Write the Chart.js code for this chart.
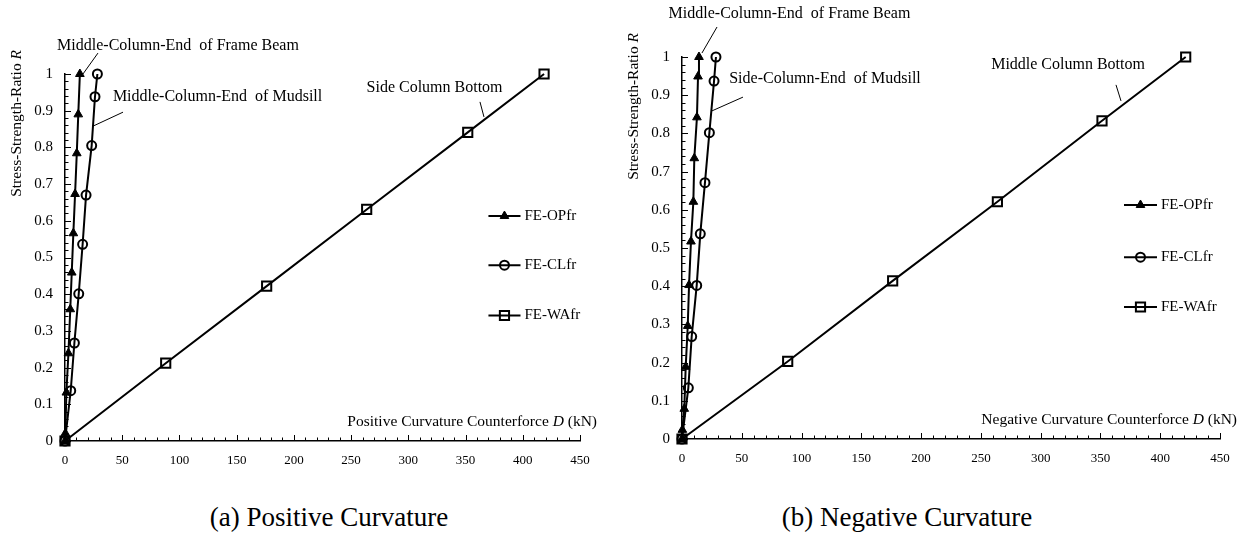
<!DOCTYPE html>
<html>
<head>
<meta charset="utf-8">
<script src="https://cdn.jsdelivr.net/npm/chart.js@4.4.0/dist/chart.umd.min.js"></script>
<style>
  body { margin: 0; background: #fff; width: 1246px; height: 535px; position: relative; overflow: hidden; font-family: "Liberation Serif", serif; }
  canvas { position: absolute; top: 0; }
  .cap { position: absolute; top: 502px; width: 400px; text-align: center; font-size: 27px; color: #000; }
</style>
</head>
<body>
<canvas id="chartA" width="620" height="480" style="left:0"></canvas>
<canvas id="chartB" width="626" height="480" style="left:620px"></canvas>
<div class="cap" style="left:129px">(a) Positive Curvature</div>
<div class="cap" style="left:707px">(b) Negative Curvature</div>
<script>
'use strict';

// series names
var seriesNames = ['FE-OPfr', 'FE-CLfr', 'FE-WAfr'];

// x ticks / y ticks
var xTicks = [0, 50, 100, 150, 200, 250, 300, 350, 400, 450];
var yTicks = [0, 0.1, 0.2, 0.3, 0.4, 0.5, 0.6, 0.7, 0.8, 0.9, 1];

// (a) positive curvature: D (kN) and R
var posOpD = [0, 0.3, 1.2, 3.0, 4.6, 5.9, 7.3, 8.8, 10.3, 11.6, 13.0];
var posOpR = [0, 0.021, 0.132, 0.239, 0.359, 0.459, 0.566, 0.673, 0.784, 0.890, 1.0];
var posClD = [0, 5.0, 8.2, 12.0, 15.4, 18.4, 23.3, 26.2, 28.3];
var posClR = [0, 0.137, 0.267, 0.401, 0.536, 0.670, 0.805, 0.938, 1.0];
var posWaD = [0, 88.0, 176.2, 263.6, 351.9, 418.6];
var posWaR = [0, 0.212, 0.422, 0.631, 0.841, 1.0];

// (b) negative curvature
var negOpD = [0, 0.3, 1.9, 3.1, 4.8, 5.9, 7.5, 9.5, 10.3, 12.5, 13.4, 14.2];
var negOpR = [0, 0.024, 0.079, 0.189, 0.296, 0.403, 0.517, 0.621, 0.735, 0.842, 0.949, 1.0];
var negClD = [0, 5.3, 8.1, 12.3, 15.3, 19.2, 22.9, 26.8, 28.4];
var negClR = [0, 0.134, 0.268, 0.402, 0.537, 0.671, 0.802, 0.937, 1.0];
var negWaD = [0, 88.4, 176.2, 263.8, 351.3, 421.3];
var negWaR = [0, 0.203, 0.414, 0.621, 0.833, 1.0];

var FONT = '"Liberation Serif", "Times New Roman", serif';

var styles = [
  { pointStyle: 'triangle', radius: 5, bg: '#000', bw: 1 },
  { pointStyle: 'circle', radius: 4.5, bg: 'rgba(0,0,0,0)', bw: 2 },
  { pointStyle: 'rect', radius: 6.5, bg: 'rgba(0,0,0,0)', bw: 2 }
];

function toPoints(xs, ys) {
  var pts = [];
  for (var i = 0; i < xs.length; i++) {
    pts.push({ x: xs[i], y: ys[i] });
  }
  return pts;
}

// draws text made of plain / italic pieces, starting at x
function drawParts(ctx, parts, x, y, size) {
  var cx = x;
  for (var i = 0; i < parts.length; i++) {
    ctx.font = (parts[i][1] ? 'italic ' : '') + size + 'px ' + FONT;
    ctx.fillText(parts[i][0], cx, y);
    cx += ctx.measureText(parts[i][0]).width;
  }
}
function partsWidth(ctx, parts, size) {
  var w = 0;
  for (var i = 0; i < parts.length; i++) {
    ctx.font = (parts[i][1] ? 'italic ' : '') + size + 'px ' + FONT;
    w += ctx.measureText(parts[i][0]).width;
  }
  return w;
}

function makeDecor(deco) {
  return {
    id: 'decor',
    afterDraw: function (chart) {
      var ctx = chart.ctx, xs = chart.scales.x, ys = chart.scales.y, area = chart.chartArea;
      ctx.save();
      ctx.strokeStyle = '#000';
      ctx.fillStyle = '#000';
      ctx.lineWidth = 1;

      // inside tick marks
      ctx.beginPath();
      for (var i = 0; i <= 45; i++) {
        var px = Math.round(xs.getPixelForValue(i * 10)) + 0.5;
        var len = i % 5 === 0 ? 6 : 3.5;
        ctx.moveTo(px, area.bottom);
        ctx.lineTo(px, area.bottom - len);
      }
      for (var j = 0; j <= 50; j++) {
        var py = Math.round(ys.getPixelForValue(j * 0.02)) + 0.5;
        var l2 = j % 5 === 0 ? 6 : 3.5;
        ctx.moveTo(area.left, py);
        ctx.lineTo(area.left + l2, py);
      }
      ctx.stroke();

      // annotations with leader lines
      ctx.textBaseline = 'middle';
      deco.notes.forEach(function (n) {
        ctx.font = '16px ' + FONT;
        ctx.textAlign = 'center';
        ctx.fillText(n.text, xs.getPixelForValue(n.at[0]), ys.getPixelForValue(n.at[1]));
        ctx.beginPath();
        ctx.moveTo(xs.getPixelForValue(n.from[0]), ys.getPixelForValue(n.from[1]));
        ctx.lineTo(xs.getPixelForValue(n.to[0]), ys.getPixelForValue(n.to[1]));
        ctx.stroke();
      });

      // legend
      ctx.textAlign = 'left';
      chart.data.datasets.forEach(function (ds, k) {
        var y = ys.getPixelForValue(deco.legendY[k]);
        var x0 = xs.getPixelForValue(deco.legendX[0]);
        var x1 = xs.getPixelForValue(deco.legendX[1]);
        ctx.lineWidth = 2;
        ctx.beginPath();
        ctx.moveTo(x0, y);
        ctx.lineTo(x1, y);
        ctx.stroke();
        var st = styles[k];
        ctx.fillStyle = st.bg;
        ctx.lineWidth = st.bw;
        Chart.helpers.drawPoint(ctx, { pointStyle: st.pointStyle, radius: st.radius, rotation: 0, borderWidth: st.bw }, (x0 + x1) / 2, y);
        ctx.fillStyle = '#000';
        ctx.font = '15px ' + FONT;
        ctx.fillText(ds.label, x1 + 4, y);
      });

      // x axis title, right aligned
      var xt = deco.xTitle;
      var w = partsWidth(ctx, xt, 15.5);
      ctx.textAlign = 'left';
      drawParts(ctx, xt, area.right + 17 - w, area.bottom - 19, 15.5);

      // y axis title, rotated, reading upward, ending near the top
      var yt = [['Stress-Strength-Ratio ', false], ['R', true]];
      var wy = partsWidth(ctx, yt, 15.5);
      ctx.translate(area.left - 48, area.top - 24);
      ctx.rotate(-Math.PI / 2);
      drawParts(ctx, yt, -wy, 0, 15.5);
      ctx.restore();
    }
  };
}

function buildChart(id, xsArr, ysArr, deco, box) {
  var datasets = [];
  for (var k = 0; k < 3; k++) {
    var st = styles[k];
    datasets.push({
      label: seriesNames[k],
      data: toPoints(xsArr[k], ysArr[k]),
      showLine: true,
      clip: false,
      borderColor: '#000',
      borderWidth: 2,
      pointStyle: st.pointStyle,
      pointRadius: st.radius,
      pointBackgroundColor: st.bg,
      pointBorderColor: '#000',
      pointBorderWidth: st.bw
    });
  }
  var tickFont = { family: FONT, size: 13 };
  new Chart(document.getElementById(id), {
    type: 'scatter',
    data: { datasets: datasets },
    options: {
      responsive: false,
      animation: false,
      devicePixelRatio: 1,
      events: [],
      layout: { padding: { top: box.top, right: box.right, left: 0, bottom: 0 } },
      plugins: { legend: { display: false }, tooltip: { enabled: false } },
      scales: {
        x: {
          type: 'linear', min: 0, max: 450,
          grid: { display: false, drawTicks: false },
          border: { display: true, color: '#000', width: 1.5 },
          afterBuildTicks: function (s) { s.ticks = xTicks.map(function (v) { return { value: v }; }); },
          ticks: { color: '#000', font: tickFont, padding: 12, maxRotation: 0, autoSkip: false },
          afterFit: function (s) { s.height = box.xh; }
        },
        y: {
          type: 'linear', min: 0, max: 1,
          grid: { display: false, drawTicks: false },
          border: { display: true, color: '#000', width: 1.5 },
          afterBuildTicks: function (s) { s.ticks = yTicks.map(function (v) { return { value: v }; }); },
          ticks: {
            color: '#000', font: { family: FONT, size: 15 }, padding: 12, autoSkip: false,
            callback: function (v) { return String(Math.round(v * 10) / 10); }
          },
          afterFit: function (s) { s.width = box.yw; }
        }
      }
    },
    plugins: [makeDecor(deco)]
  });
}

buildChart('chartA',
  [posOpD, posClD, posWaD], [posOpR, posClR, posWaR],
  {
    notes: [
      { text: 'Middle-Column-End  of Frame Beam', at: [98.7, 1.076], from: [28.8, 1.057], to: [15.7, 1.0] },
      { text: 'Middle-Column-End  of Mudsill', at: [133.3, 0.937], from: [50.7, 0.896], to: [24.5, 0.858] },
      { text: 'Side Column Bottom', at: [322.9, 0.962], from: [362.6, 0.924], to: [366.1, 0.883] }
    ],
    legendX: [370, 398],
    legendY: [0.613, 0.479, 0.342],
    xTitle: [['Positive Curvature Counterforce ', false], ['D', true], [' (kN)', false]]
  },
  { top: 74, right: 40, xh: 39, yw: 65 });

buildChart('chartB',
  [negOpD, negClD, negWaD], [negOpR, negClR, negWaR],
  {
    notes: [
      { text: 'Middle-Column-End  of Frame Beam', at: [89.9, 1.1126], from: [29.3, 1.0785], to: [16.7, 1.0105] },
      { text: 'Side-Column-End  of Mudsill', at: [119.6, 0.942], from: [51.0, 0.895], to: [25.1, 0.859] },
      { text: 'Middle Column Bottom', at: [322.9, 0.979], from: [363.0, 0.927], to: [367.2, 0.885] }
    ],
    legendX: [369.7, 397.3],
    legendY: [0.6126, 0.476, 0.3455],
    xTitle: [['Negative Curvature Counterforce ', false], ['D', true], [' (kN)', false]]
  },
  { top: 57, right: 26, xh: 41, yw: 62 });
</script>
</body>
</html>
